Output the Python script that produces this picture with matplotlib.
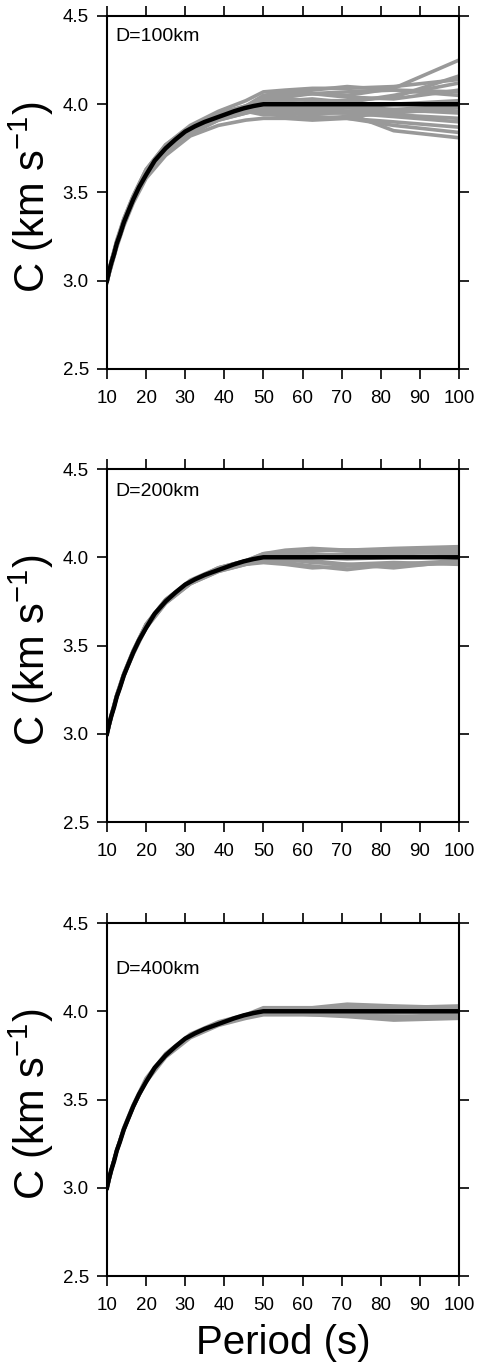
import numpy as np
import matplotlib
matplotlib.use("Agg")
import matplotlib.pyplot as plt

plt.rcParams['font.family'] = ['Liberation Sans', 'DejaVu Sans']
plt.rcParams['mathtext.default'] = 'regular'

# reference model (black)
ref_period = [10, 10.5, 11.1, 11.8, 12.5, 13.3, 14.3, 15.4, 16.7, 18.2, 20, 22.2,
              25, 27.5, 30, 32.5, 35, 37.5, 40, 42.5, 45, 47.5, 50, 100]
ref_c = [3.00, 3.05, 3.10, 3.15, 3.21, 3.26, 3.33, 3.39, 3.46, 3.53, 3.60, 3.68,
         3.75, 3.80, 3.845, 3.875, 3.90, 3.92, 3.94, 3.96, 3.977, 3.99, 4.00, 4.00]

# periods of the gray (inverted) curves
period = [10, 11.1, 12.5, 14.3, 16.7, 20, 25, 31.3, 38.5, 45.5, 50, 55.6, 62.5, 71.4, 83.3, 100]

# D = 100 km
c_100 = [
    [3.00, 3.11, 3.22, 3.35, 3.48, 3.63, 3.77, 3.88, 3.96, 4.02, 4.07, 4.08, 4.09, 4.09, 4.10, 4.14],
    [2.99, 3.09, 3.20, 3.32, 3.45, 3.60, 3.73, 3.84, 3.91, 3.95, 3.98, 3.97, 3.96, 3.95, 3.93, 3.90],
    [3.00, 3.10, 3.21, 3.34, 3.47, 3.62, 3.76, 3.87, 3.95, 3.99, 4.03, 4.05, 4.06, 4.05, 4.09, 4.25],
    [3.00, 3.08, 3.19, 3.31, 3.44, 3.58, 3.71, 3.82, 3.88, 3.91, 3.92, 3.92, 3.91, 3.92, 3.90, 3.87],
    [3.00, 3.10, 3.22, 3.34, 3.47, 3.62, 3.75, 3.86, 3.94, 3.99, 4.02, 4.04, 4.06, 4.07, 4.08, 4.07],
    [3.00, 3.11, 3.21, 3.33, 3.46, 3.61, 3.74, 3.85, 3.92, 3.96, 3.96, 3.95, 3.94, 3.96, 3.97, 3.99],
    [3.00, 3.10, 3.20, 3.32, 3.45, 3.60, 3.74, 3.85, 3.93, 3.97, 4.00, 4.02, 4.03, 4.01, 4.05, 4.12],
    [2.99, 3.09, 3.20, 3.33, 3.46, 3.60, 3.73, 3.83, 3.91, 3.95, 3.97, 3.96, 3.93, 3.92, 3.88, 3.84],
    [3.00, 3.11, 3.23, 3.35, 3.48, 3.63, 3.77, 3.87, 3.94, 3.98, 4.04, 4.06, 4.08, 4.10, 4.08, 4.05],
    [3.00, 3.10, 3.21, 3.32, 3.46, 3.61, 3.75, 3.86, 3.93, 3.96, 3.99, 3.98, 3.98, 3.96, 3.94, 3.92],
    [3.00, 3.10, 3.21, 3.34, 3.47, 3.62, 3.76, 3.87, 3.94, 3.98, 4.01, 3.99, 3.97, 3.98, 4.00, 4.02],
    [3.00, 3.09, 3.20, 3.32, 3.45, 3.60, 3.73, 3.84, 3.92, 3.96, 3.94, 3.94, 3.95, 3.95, 3.85, 3.81],
    [3.00, 3.10, 3.22, 3.34, 3.47, 3.62, 3.76, 3.87, 3.94, 3.99, 4.05, 4.07, 4.06, 4.04, 4.03, 4.08],
    [3.00, 3.10, 3.21, 3.33, 3.46, 3.61, 3.75, 3.86, 3.93, 3.97, 3.98, 3.97, 3.99, 3.99, 3.97, 3.95],
    [3.00, 3.10, 3.21, 3.33, 3.46, 3.61, 3.74, 3.85, 3.92, 3.96, 3.95, 3.93, 3.92, 3.93, 3.95, 3.98],
    [3.00, 3.11, 3.22, 3.34, 3.47, 3.62, 3.76, 3.86, 3.94, 3.98, 4.02, 4.03, 4.02, 4.02, 4.04, 4.16],
    [3.00, 3.10, 3.21, 3.33, 3.46, 3.61, 3.75, 3.86, 3.93, 3.97, 3.99, 4.01, 4.00, 3.98, 3.96, 3.96],
]

# D = 200 km
c_200 = [
    [3.00, 3.10, 3.22, 3.34, 3.47, 3.62, 3.76, 3.86, 3.94, 3.98, 4.02, 4.03, 4.04, 4.04, 4.04, 4.05],
    [3.00, 3.10, 3.21, 3.33, 3.46, 3.61, 3.75, 3.85, 3.92, 3.96, 3.98, 3.97, 3.95, 3.93, 3.96, 3.98],
    [3.00, 3.10, 3.21, 3.33, 3.46, 3.60, 3.74, 3.85, 3.93, 3.97, 3.99, 3.99, 3.97, 3.96, 3.97, 3.96],
    [3.00, 3.11, 3.22, 3.34, 3.47, 3.62, 3.76, 3.87, 3.94, 3.98, 4.01, 4.02, 4.04, 4.04, 4.03, 4.04],
    [3.00, 3.10, 3.21, 3.33, 3.46, 3.61, 3.75, 3.86, 3.93, 3.97, 4.00, 4.00, 4.01, 4.02, 4.03, 4.02],
    [3.00, 3.10, 3.21, 3.33, 3.45, 3.60, 3.74, 3.85, 3.92, 3.96, 3.97, 3.96, 3.94, 3.95, 3.95, 3.97],
    [3.00, 3.10, 3.21, 3.33, 3.46, 3.61, 3.75, 3.86, 3.93, 3.97, 4.01, 4.02, 4.00, 3.99, 4.00, 4.00],
    [3.00, 3.10, 3.22, 3.34, 3.47, 3.62, 3.76, 3.86, 3.94, 3.98, 4.02, 4.04, 4.05, 4.04, 4.05, 4.06],
    [3.00, 3.10, 3.21, 3.33, 3.46, 3.61, 3.75, 3.86, 3.93, 3.97, 3.99, 3.98, 3.98, 3.96, 3.94, 3.98],
    [3.00, 3.10, 3.21, 3.33, 3.46, 3.61, 3.75, 3.86, 3.93, 3.97, 4.00, 4.01, 4.02, 4.01, 4.02, 4.03],
]

# D = 400 km
c_400 = [
    [3.00, 3.10, 3.21, 3.34, 3.47, 3.62, 3.76, 3.87, 3.94, 3.98, 4.02, 4.02, 4.02, 4.04, 4.03, 4.02],
    [3.00, 3.10, 3.21, 3.33, 3.46, 3.60, 3.74, 3.85, 3.92, 3.96, 3.98, 3.98, 3.98, 3.97, 3.95, 3.96],
    [3.00, 3.10, 3.21, 3.33, 3.46, 3.61, 3.75, 3.86, 3.93, 3.97, 4.01, 4.01, 4.00, 4.03, 4.02, 4.03],
    [3.00, 3.10, 3.21, 3.33, 3.46, 3.61, 3.75, 3.86, 3.93, 3.97, 3.99, 3.99, 3.99, 3.99, 3.96, 3.97],
    [3.00, 3.10, 3.21, 3.33, 3.46, 3.61, 3.75, 3.86, 3.93, 3.97, 4.00, 4.00, 4.01, 4.02, 4.01, 4.01],
    [3.00, 3.10, 3.21, 3.33, 3.46, 3.61, 3.75, 3.86, 3.93, 3.97, 3.99, 3.99, 3.98, 3.98, 3.97, 3.98],
    [3.00, 3.10, 3.21, 3.33, 3.46, 3.61, 3.75, 3.86, 3.93, 3.97, 4.01, 4.00, 3.99, 3.99, 3.99, 4.00],
    [3.00, 3.10, 3.21, 3.33, 3.46, 3.61, 3.75, 3.86, 3.93, 3.97, 4.00, 4.01, 4.01, 4.00, 4.00, 3.99],
]

panels = [c_100, c_200, c_400]
labels = ["D=100km", "D=200km", "D=400km"]
label_y = [0.943, 0.937, 0.867]
xticks = [10, 20, 30, 40, 50, 60, 70, 80, 90, 100]
yticks = [2.5, 3.0, 3.5, 4.0, 4.5]

fig = plt.figure(figsize=(4.78, 13.65), dpi=100)
bottoms = [0.7297, 0.3978, 0.0652]

for i in range(3):
    ax = fig.add_axes([0.2238, bottoms[i], 0.7364, 0.2586])
    for c in panels[i]:
        ax.plot(period, c, color='#999999', lw=2.6, solid_joinstyle='round', zorder=2)
    ax.plot(ref_period, ref_c, color='black', lw=3.2, zorder=3)

    ax.set_xlim(10, 100)
    ax.set_ylim(2.5, 4.5)
    ax.set_xticks(xticks)
    ax.set_yticks(yticks)
    ax.set_yticklabels([f"{v:.1f}" for v in yticks])
    ax.tick_params(direction='out', length=7, width=1.2, top=True, right=True,
                   labeltop=False, labelright=False, labelsize=13.5)
    ax.tick_params(axis='x', pad=8)
    ax.tick_params(axis='y', pad=6)
    for s in ax.spines.values():
        s.set_linewidth(1.5)

    ax.text(0.023, label_y[i], labels[i], transform=ax.transAxes,
            ha='left', va='center', fontsize=14)
    ax.text(-0.215, 0.485, "C (km s$^{-1}$)", transform=ax.transAxes,
            rotation=90, ha='center', va='center', fontsize=30)

    if i == 2:
        ax.text(0.5, -0.19, "Period (s)", transform=ax.transAxes,
                ha='center', va='center', fontsize=29)

plt.savefig("out.png", dpi=100)
